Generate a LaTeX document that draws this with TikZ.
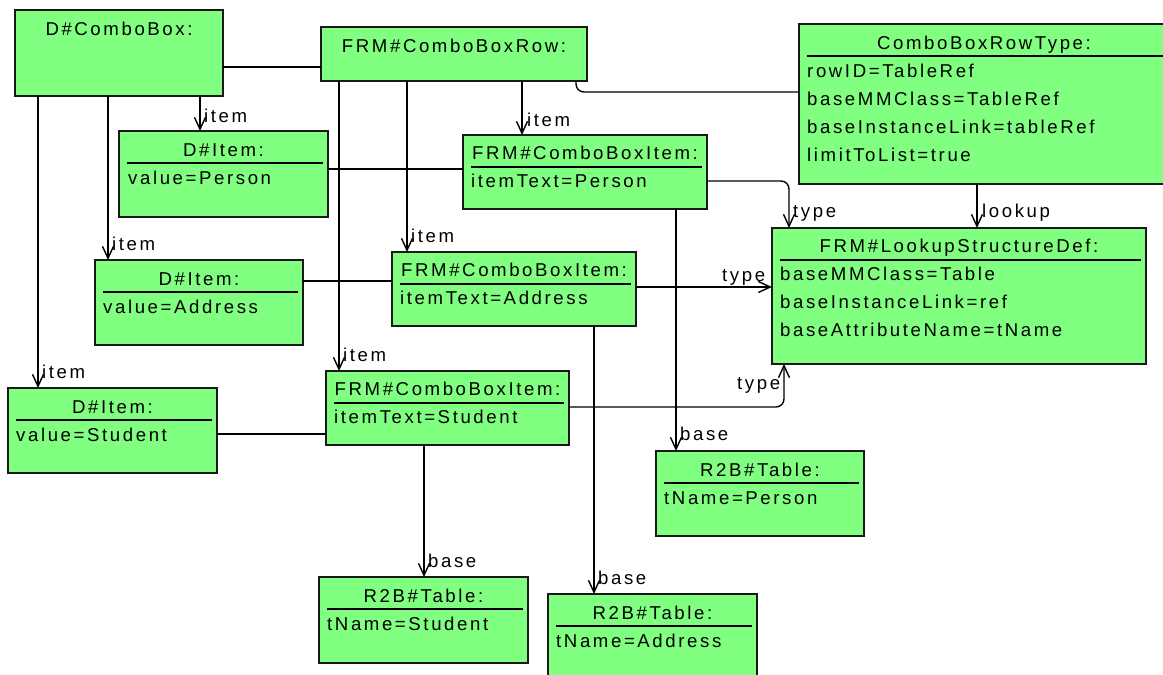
\documentclass[tikz,border=0pt]{standalone}
\usepackage{fontspec}
\setmainfont{Liberation Sans}[LetterSpace=14]
\usetikzlibrary{arrows.meta}
\definecolor{boxgreen}{RGB}{128,255,128}
\tikzset{
  obj/.style={draw=black!90, fill=boxgreen, line width=1.5pt, anchor=north west, inner sep=0pt, outer sep=0pt},
  ttl/.style={anchor=base, inner sep=0pt},
  attr/.style={anchor=base west, inner sep=0pt},
  lbl/.style={anchor=base west, inner sep=0pt},
  sepline/.style={line width=1.4pt, black},
  conn/.style={line width=1.4pt, black},
  arr/.style={conn, -{Straight Barb[length=12pt,width=11pt]}},
}
\begin{document}
\begin{tikzpicture}[x=1pt,y=-1pt,font=\fontsize{18.6}{22}\selectfont]
\useasboundingbox (0,0) rectangle (1163,675);
% boxes
\node[obj, minimum width=208pt, minimum height=86pt] (cb) at (15,10) {};
\node[obj, minimum width=266pt, minimum height=54pt] (row) at (321,27) {};
\node[obj, minimum width=390pt, minimum height=160pt] (rt) at (799,24) {};
\node[obj, minimum width=209pt, minimum height=86pt] (ip) at (119,131) {};
\node[obj, minimum width=244pt, minimum height=74pt] (fp) at (463,135) {};
\node[obj, minimum width=208pt, minimum height=85pt] (ia) at (95,260) {};
\node[obj, minimum width=244pt, minimum height=74pt] (fa) at (392,252) {};
\node[obj, minimum width=209pt, minimum height=85pt] (is) at (8,388) {};
\node[obj, minimum width=243pt, minimum height=74pt] (fs) at (326,371) {};
\node[obj, minimum width=374pt, minimum height=136pt] (lk) at (772,228) {};
\node[obj, minimum width=208pt, minimum height=85pt] (tp) at (656,451) {};
\node[obj, minimum width=209pt, minimum height=86pt] (ts) at (319,577) {};
\node[obj, minimum width=209pt, minimum height=100pt] (ta) at (548,594) {};
% titles
\node[ttl] (cbT) at ([yshift=-25pt]cb.north) {D\#ComboBox:};
\node[ttl] (rowT) at ([yshift=-25pt]row.north) {FRM\#ComboBoxRow:};
\node[ttl] (rtT) at (984,49) {ComboBoxRowType:};
\node[ttl] (ipT) at ([yshift=-25pt]ip.north) {D\#Item:};
\node[ttl] (fpT) at ([yshift=-24.5pt]fp.north) {FRM\#ComboBoxItem:};
\node[ttl] (iaT) at ([yshift=-25pt]ia.north) {D\#Item:};
\node[ttl] (faT) at ([yshift=-24.5pt]fa.north) {FRM\#ComboBoxItem:};
\node[ttl] (isT) at ([yshift=-25pt]is.north) {D\#Item:};
\node[ttl] (fsT) at ([yshift=-24.5pt]fs.north) {FRM\#ComboBoxItem:};
\node[ttl] (lkT) at ([yshift=-24.5pt]lk.north) {FRM\#LookupStructureDef:};
\node[ttl] (tpT) at ([yshift=-25pt]tp.north) {R2B\#Table:};
\node[ttl] (tsT) at ([yshift=-25pt]ts.north) {R2B\#Table:};
\node[ttl] (taT) at ([yshift=-25pt]ta.north) {R2B\#Table:};
% separator lines
\foreach \b in {ip,fp,ia,fa,is,fs,lk,tp,ts,ta}{
  \draw[sepline] ([xshift=8pt,yshift=-32pt]\b.north west) -- ([xshift=-5pt,yshift=-32pt]\b.north east);
}
\draw[sepline] (807,56) -- (1170,56);
% attributes
\node[attr] (rtA1) at (807,77) {rowID=TableRef};
\node[attr] (rtA2) at (807,105) {baseMMClass=TableRef};
\node[attr] (rtA3) at (807,133) {baseInstanceLink=tableRef};
\node[attr] (rtA4) at (807,161) {limitToList=true};
\node[attr] (ipA) at ([xshift=9pt,yshift=-53pt]ip.north west) {value=Person};
\node[attr] (fpA) at ([xshift=8pt,yshift=-52pt]fp.north west) {itemText=Person};
\node[attr] (iaA) at ([xshift=8pt,yshift=-53pt]ia.north west) {value=Address};
\node[attr] (faA) at ([xshift=8pt,yshift=-52pt]fa.north west) {itemText=Address};
\node[attr] (isA) at ([xshift=8pt,yshift=-53pt]is.north west) {value=Student};
\node[attr] (fsA) at ([xshift=8pt,yshift=-52pt]fs.north west) {itemText=Student};
\node[attr] (lkA1) at ([xshift=8pt,yshift=-52pt]lk.north west) {baseMMClass=Table};
\node[attr] (lkA2) at ([xshift=8pt,yshift=-80pt]lk.north west) {baseInstanceLink=ref};
\node[attr] (lkA3) at ([xshift=8pt,yshift=-108pt]lk.north west) {baseAttributeName=tName};
\node[attr] (tpA) at ([xshift=8pt,yshift=-53pt]tp.north west) {tName=Person};
\node[attr] (tsA) at ([xshift=8pt,yshift=-53pt]ts.north west) {tName=Student};
\node[attr] (taA) at ([xshift=8pt,yshift=-53pt]ta.north west) {tName=Address};
% plain connectors
\draw[conn] ([yshift=-57pt]cb.north east) coordinate (c1) -- (c1 -| row.west);
\draw[conn] ([yshift=-38pt]ip.north east) coordinate (c9) -- (c9 -| fp.west);
\draw[conn] ([yshift=-21pt]ia.north east) coordinate (c10) -- (c10 -| fa.west);
\draw[conn] ([yshift=-46pt]is.north east) coordinate (c11) -- (c11 -| fs.west);
\draw[conn, rounded corners=8pt] ([xshift=255pt]row.south west) |- ([yshift=-68pt]rt.north west);
% item arrows
\draw[arr] ([xshift=185pt]cb.south west) coordinate (c2) -- (c2 |- ip.north);
\draw[arr] ([xshift=93pt]cb.south west) coordinate (c3) -- (c3 |- ia.north);
\draw[arr] ([xshift=23pt]cb.south west) coordinate (c4) -- (c4 |- is.north);
\draw[arr] ([xshift=18pt]row.south west) coordinate (c5) -- (c5 |- fs.north);
\draw[arr] ([xshift=86pt]row.south west) coordinate (c6) -- (c6 |- fa.north);
\draw[arr] ([xshift=201pt]row.south west) coordinate (c7) -- (c7 |- fp.north);
% type arrows
\draw[arr, rounded corners=8pt] ([yshift=-46pt]fp.north east) -| ([xshift=17pt]lk.north west);
\draw[arr] ([yshift=-35pt]fa.north east) coordinate (c13) -- (c13 -| lk.west);
\draw[arr, rounded corners=8pt] ([yshift=-36pt]fs.north east) -| ([xshift=12pt]lk.south west);
% lookup
\draw[arr] ([xshift=178pt]rt.south west) coordinate (c15) -- (c15 |- lk.north);
% base arrows
\draw[arr] ([xshift=213pt]fp.south west) coordinate (c16) -- (c16 |- tp.north);
\draw[arr] ([xshift=202pt]fa.south west) coordinate (c17) -- (c17 |- ta.north);
\draw[arr] ([xshift=98pt]fs.south west) coordinate (c18) -- (c18 |- ts.north);
% labels
\node[lbl] (l2) at (204,122) {item};
\node[lbl] (l3) at (112,250) {item};
\node[lbl] (l4) at (42,378) {item};
\node[lbl] (l5) at (343,361) {item};
\node[lbl] (l6) at (411,242) {item};
\node[lbl] (l7) at (527,126) {item};
\node[lbl] (l12) at (793,217) {type};
\node[lbl] (l13) at (722,281) {type};
\node[lbl] (l14) at (737,389) {type};
\node[lbl] (l15) at (982,217) {lookup};
\node[lbl] (l16) at (680,440) {base};
\node[lbl] (l17) at (598,584) {base};
\node[lbl] (l18) at (428,567) {base};
\end{tikzpicture}
\end{document}
